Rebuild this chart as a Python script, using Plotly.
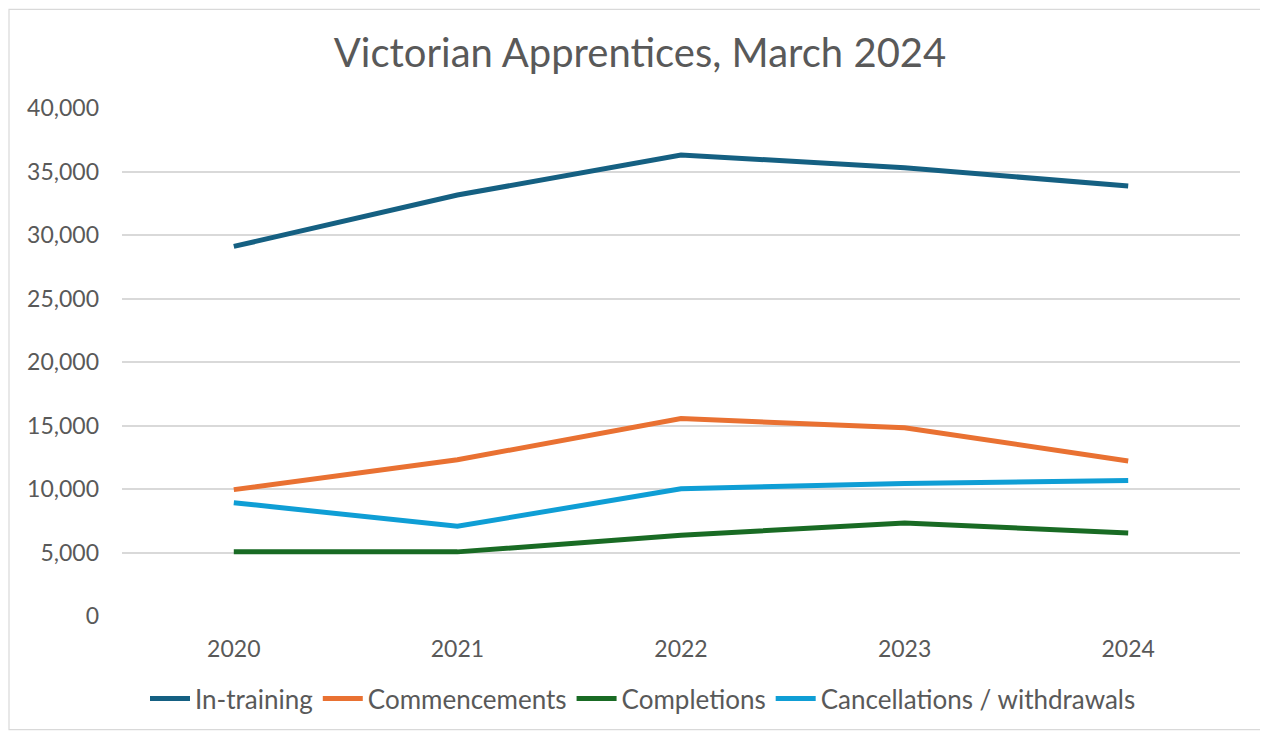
import plotly.graph_objects as go

years = ["2020", "2021", "2022", "2023", "2024"]
in_training = [29100, 33150, 36300, 35300, 33850]
commencements = [9950, 12300, 15550, 14820, 12210]
completions = [5050, 5050, 6350, 7330, 6540]
cancellations = [8920, 7060, 10020, 10430, 10670]

series = [
    ("In-training", in_training, "#156082"),
    ("Commencements", commencements, "#E97132"),
    ("Completions", completions, "#196B24"),
    ("Cancellations / withdrawals", cancellations, "#0F9ED5"),
]

FONT = "Century Gothic, Lato, sans-serif"
TXT = "#595959"

fig = go.Figure()
for name, vals, col in series:
    fig.add_trace(go.Scatter(
        x=years, y=vals, name=name, mode="lines",
        line=dict(color=col, width=5),
    ))

OFF = 8  # page body margin
W, H = 1268 - OFF, 734 - OFF
# plot area in page coordinates
PL, PR, PT, PB = 122, 1240, 108, 618
L, T = PL - OFF, PT - OFF
R, B = W - (PR - OFF), H - (PB - OFF)
pw, ph = W - L - R, H - T - B

def px(x):
    return (x - OFF - L) / pw

def py(y):
    return (H - B - (y - OFF)) / ph

fig.update_layout(
    width=W, height=H,
    margin=dict(l=L, r=R, t=T, b=B),
    paper_bgcolor="white", plot_bgcolor="white",
    font=dict(family=FONT, color=TXT, size=23),
    title=dict(text="Victorian Apprentices, March 2024", x=px(640), xanchor="center",
               xref="paper",
               y=1 - (53 - OFF) / H, yanchor="middle",
               font=dict(size=40, color=TXT, family=FONT)),
    xaxis=dict(type="category", range=[-0.5, 4.5], showgrid=False, showline=False,
               zeroline=False, ticks="", ticklabelstandoff=17,
               tickfont=dict(size=23, color=TXT)),
    yaxis=dict(range=[0, 40000], dtick=5000, tickformat=",d", showgrid=True,
               gridcolor="#D9D9D9", gridwidth=1.5, zeroline=False, showline=False,
               ticks="", ticklabelstandoff=22,
               tickfont=dict(size=23, color=TXT)),
    legend=dict(orientation="h", x=px(643), xanchor="center", y=py(701), yanchor="middle",
                font=dict(size=26, color=TXT, family=FONT), itemwidth=40,
                tracegroupgap=0),
    shapes=[dict(type="rect", xref="paper", yref="paper",
                 x0=px(9), x1=px(1263), y0=py(732), y1=py(9),
                 line=dict(color="#D9D9D9", width=1.2), fillcolor="rgba(0,0,0,0)",
                 layer="below")],
)

fig.write_html("out.html")
